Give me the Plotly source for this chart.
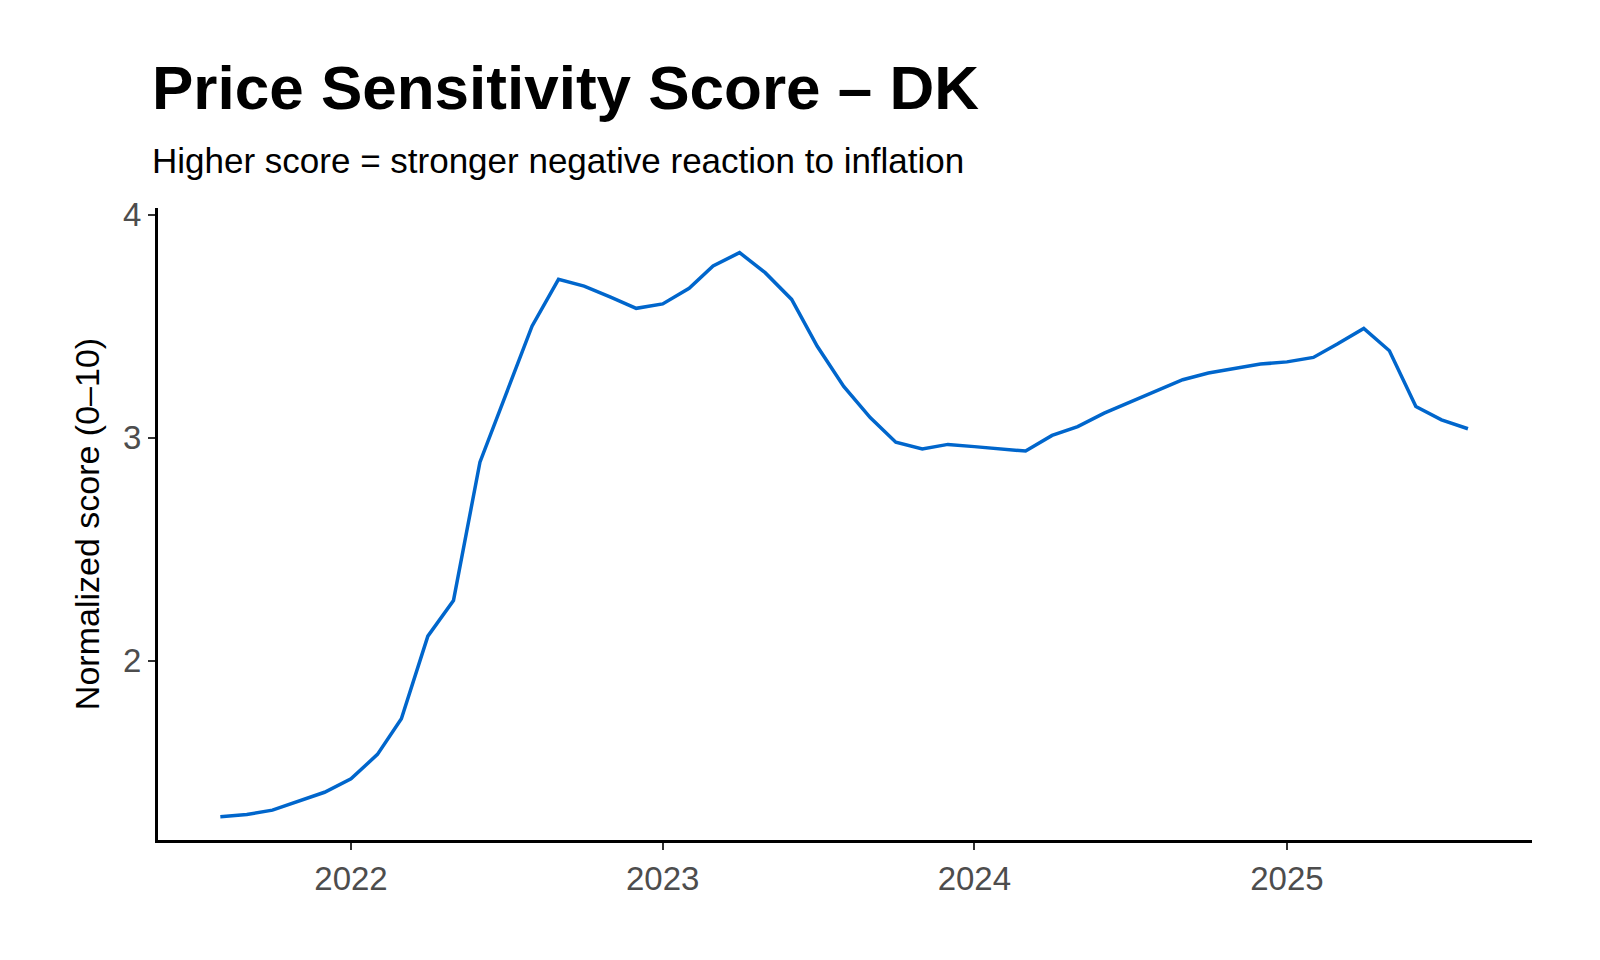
import pandas as pd
import plotly.graph_objects as go

months = pd.date_range("2021-08-01", "2025-08-01", freq="MS")
scores = [1.30, 1.31, 1.33, 1.37, 1.41,
          1.47, 1.58, 1.74, 2.11, 2.27, 2.89, 3.19, 3.50, 3.71, 3.68, 3.63, 3.58,
          3.60, 3.67, 3.77, 3.83, 3.74, 3.62, 3.41, 3.23, 3.09, 2.98, 2.95, 2.97,
          2.96, 2.95, 2.94, 3.01, 3.05, 3.11, 3.16, 3.21, 3.26, 3.29, 3.31, 3.33,
          3.34, 3.36, 3.42, 3.49, 3.39, 3.14, 3.08, 3.04]
tick_years = ["2022-01-01", "2023-01-01", "2024-01-01", "2025-01-01"]
tick_text = ["2022", "2023", "2024", "2025"]

fig = go.Figure(go.Scatter(x=months, y=scores, mode="lines",
                           line=dict(color="#0066cc", width=3.5)))

font = "Liberation Sans, Helvetica, Arial, sans-serif"
fig.update_layout(
    width=1600, height=960, plot_bgcolor="white", paper_bgcolor="white",
    margin=dict(l=150, r=76, t=200, b=128),
    showlegend=False, font=dict(family=font),
    annotations=[
        dict(text="<b>Price Sensitivity Score – DK</b>", x=-0.006, y=1.19, xref="paper", yref="paper",
             xanchor="left", yanchor="middle", showarrow=False, font=dict(size=62, color="black")),
        dict(text="Higher score = stronger negative reaction to inflation", x=-0.006, y=1.075,
             xref="paper", yref="paper", xanchor="left", yanchor="middle", showarrow=False,
             font=dict(size=35, color="black")),
    ],
)
fig.update_xaxes(range=["2021-05-20", "2025-10-15"], tickvals=tick_years, ticktext=tick_text,
                 showline=True, linecolor="black", linewidth=3, ticks="outside", ticklen=7,
                 tickwidth=2, tickcolor="#333", showgrid=False, zeroline=False,
                 tickfont=dict(size=33, color="#4d4d4d"))
fig.update_yaxes(range=[1.196, 4.03], tickvals=[2, 3, 4], showline=True, linecolor="black",
                 linewidth=3, ticks="outside", ticklen=7, tickwidth=2, tickcolor="#333",
                 showgrid=False, zeroline=False, tickfont=dict(size=33, color="#4d4d4d"),
                 title=dict(text="Normalized score (0–10)", font=dict(size=34, color="black"),
                            standoff=14))
fig.write_html("out.html")
